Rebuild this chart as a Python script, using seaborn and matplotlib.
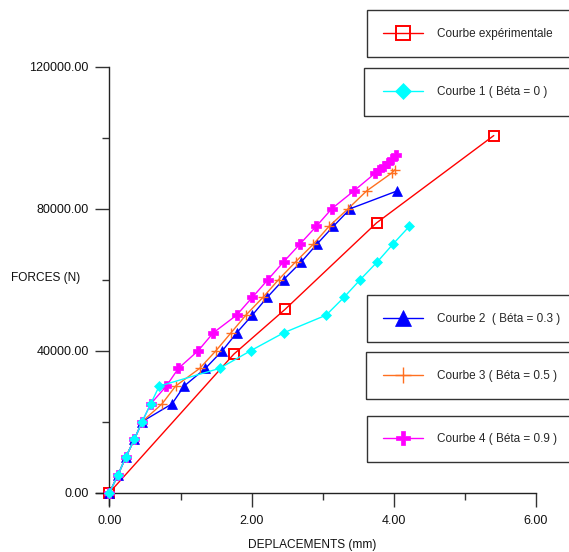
import matplotlib
matplotlib.use('Agg')
import matplotlib.pyplot as plt
import seaborn as sns
from matplotlib.patches import Rectangle
from matplotlib.ticker import MultipleLocator, FormatStrFormatter

# ---------------- data ----------------
D_exp = [0, 1.75, 2.47, 3.76, 5.41]
F_exp = [0, 39000, 51600, 76000, 100600]

D_b0 = [0, 0.12, 0.23, 0.35, 0.46, 0.58, 0.70, 1.55, 1.99, 2.45, 3.05, 3.30, 3.53, 3.77, 3.99, 4.22]
F_b0 = [0, 5000, 10000, 15000, 20000, 25000, 30000, 35000, 40000, 45000, 50000,
        55000, 60000, 65000, 70000, 75000]

D_b03 = [0, 0.12, 0.23, 0.35, 0.46, 0.88, 1.05, 1.35, 1.59, 1.79, 2.01, 2.22, 2.45,
         2.70, 2.92, 3.15, 3.39, 4.05]
F_b03 = [0, 5000, 10000, 15000, 20000, 25000, 30000, 35000, 40000, 45000, 50000,
         55000, 60000, 65000, 70000, 75000, 80000, 85000]

D_b05 = [0, 0.12, 0.23, 0.35, 0.46, 0.74, 0.93, 1.27, 1.50, 1.71, 1.92, 2.16, 2.38,
         2.62, 2.87, 3.09, 3.36, 3.62, 3.97, 4.02]
F_b05 = [0, 5000, 10000, 15000, 20000, 25000, 30000, 35000, 40000, 45000, 50000,
         55000, 60000, 65000, 70000, 75000, 80000, 85000, 90000, 91000]

D_b09 = [0, 0.12, 0.23, 0.35, 0.46, 0.58, 0.80, 0.97, 1.25, 1.46, 1.79, 2.01, 2.23,
         2.45, 2.68, 2.91, 3.13, 3.44, 3.74, 3.80, 3.86, 3.92, 3.98, 4.04]
F_b09 = [0, 5000, 10000, 15000, 20000, 25000, 30000, 35000, 40000, 45000, 50000,
         55000, 60000, 65000, 70000, 75000, 80000, 85000, 90000, 91000, 92000,
         93000, 94000, 95000]

labels = ["Courbe expérimentale", "Courbe 1 ( Béta = 0 )", "Courbe 2  ( Béta = 0.3 )",
          "Courbe 3 ( Béta = 0.5 )", "Courbe 4 ( Béta = 0.9 )"]
x_ticks = [0, 2, 4, 6]
y_ticks = [0, 40000, 80000, 120000]

# ---------------- style ----------------
sns.set_style('white')
plt.rcParams['font.family'] = ['Liberation Sans', 'DejaVu Sans']

W, H = 569, 552
fig = plt.figure(figsize=(W / 100, H / 100), dpi=100)
ax = fig.add_axes([96 / W, 1 - 505 / H, (535.7 - 96) / W, (505 - 66.7) / H])

specs = [
    (D_exp, F_exp, '#FF0000', 's', 6.5, 'none', '#FF0000', 1.4, 2),
    (D_b03, F_b03, '#0000FF', '^', 7.2, '#0000FF', '#0000FF', 0.5, 3),
    (D_b05, F_b05, '#FF7020', '+', 7.0, '#FF7020', '#FF7020', 1.0, 4),
    (D_b09, F_b09, '#FF00FF', 'P', 6.5, '#FF00FF', '#FF00FF', 0.5, 5),
    (D_b0, F_b0, '#00FFFF', 'D', 4.8, '#00FFFF', '#00FFFF', 0.5, 6),
]
label_map = {id(D_exp): labels[0], id(D_b0): labels[1], id(D_b03): labels[2],
             id(D_b05): labels[3], id(D_b09): labels[4]}

handles = {}
for D, F, col, mk, ms, mfc, mec, mew, z in specs:
    sns.lineplot(x=D, y=F, ax=ax, sort=False, estimator=None, color=col,
                 linewidth=1.0, marker=mk, markersize=ms, markerfacecolor=mfc,
                 markeredgecolor=mec, markeredgewidth=mew, legend=False,
                 zorder=z, clip_on=False)
    handles[label_map[id(D)]] = ax.lines[-1]

ax.set_xlim(-0.19, 6.0)
ax.set_ylim(-3500, 120000)
ax.set_xticks(x_ticks)
ax.set_yticks(y_ticks)
ax.xaxis.set_minor_locator(MultipleLocator(1))
ax.yaxis.set_minor_locator(MultipleLocator(20000))
ax.xaxis.set_major_formatter(FormatStrFormatter('%.2f'))
ax.yaxis.set_major_formatter(FormatStrFormatter('%.2f'))
ax.set_xlabel('')
ax.set_ylabel('')

for s in ['top', 'right']:
    ax.spines[s].set_visible(False)
ax.spines['left'].set_position(('data', 0))
ax.spines['bottom'].set_position(('data', 0))
for s in ['left', 'bottom']:
    ax.spines[s].set_color('#222222')
    ax.spines[s].set_linewidth(1.0)

ax.tick_params(which='major', direction='out', length=10, width=1.0,
               color='#333333', labelsize=9, labelcolor='#111111')
ax.tick_params(which='minor', direction='out', length=5, width=1.0, color='#333333')
ax.tick_params(axis='x', which='major', pad=6)
ax.tick_params(axis='y', which='major', pad=5)
ax.tick_params(left=True, bottom=True, which='both')

fig.text(10.7 / W, 1 - 278.3 / H, 'FORCES (N)', ha='left', va='center',
         fontsize=8.6, color='#111111')
fig.text(312 / W, 1 - 545 / H, 'DEPLACEMENTS (mm)', ha='center', va='center',
         fontsize=8.6, color='#111111')

# ---------------- legend boxes ----------------
boxes = [(366.7, 10, 57.3), (364, 68.3, 116), (367.3, 295, 342.3),
         (366, 352.3, 399.3), (366.7, 416, 462)]
for lab, (x0, top, bot) in zip(labels, boxes):
    rect = Rectangle((x0 / W, 1 - bot / H), (580 - x0) / W, (bot - top) / H,
                     transform=fig.transFigure, fill=False, ec='#333333', lw=1.0,
                     clip_on=False)
    fig.add_artist(rect)
    yc = (top + bot) / 2
    fig.legend(handles=[handles[lab]], labels=[lab], loc='center left',
               bbox_to_anchor=(383 / W, 1 - yc / H), frameon=False, borderpad=0,
               borderaxespad=0, handlelength=3.43, handletextpad=1.14,
               fontsize=8.5, markerscale=1.6, numpoints=1)

fig.savefig('out.png', dpi=100)
